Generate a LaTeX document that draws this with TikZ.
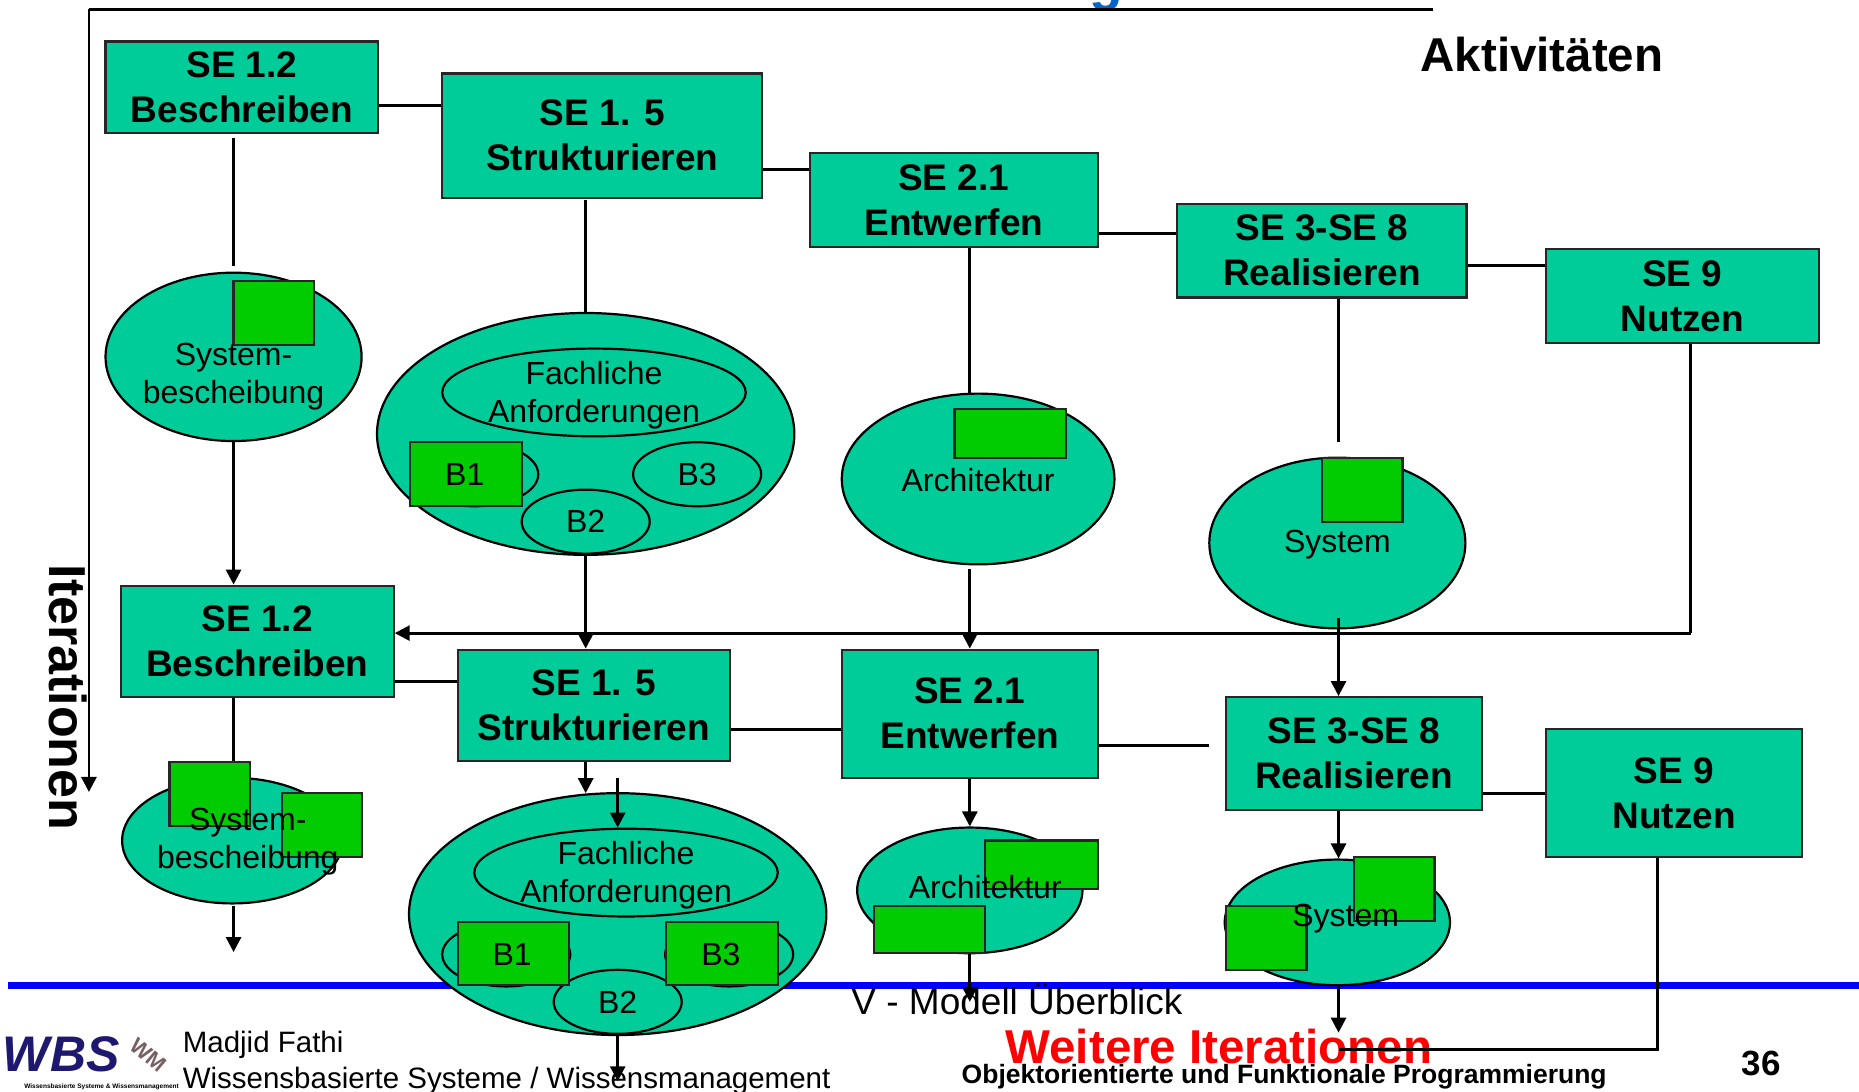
\documentclass[tikz,border=0pt]{standalone}
\usepackage{fontspec}
\setmainfont{Liberation Sans}
\usetikzlibrary{arrows.meta,shapes.geometric}
\definecolor{teal1}{RGB}{0,204,153}
\definecolor{green1}{RGB}{0,204,0}
\definecolor{blue1}{RGB}{0,0,255}
\definecolor{red1}{RGB}{255,0,0}
\definecolor{title1}{RGB}{0,102,204}
\definecolor{navy1}{RGB}{30,25,110}
\definecolor{wm1}{RGB}{120,95,100}
\tikzset{
  sebox/.style={draw=black!85,fill=teal1,line width=2.2pt,inner sep=0pt,align=center,font=\fontsize{37}{45}\selectfont\bfseries},
  oval/.style={ellipse,draw=black,fill=teal1,line width=2.2pt,inner sep=0pt},
  grbox/.style={draw=black!85,fill=green1,line width=2.2pt,inner sep=0pt},
  lab/.style={inner sep=0pt,align=center,font=\fontsize{32}{38}\selectfont},
  conn/.style={draw=black,line width=2.8pt},
  arr/.style={conn,-{Triangle[length=15pt,width=15pt]}},
  plain/.style={inner sep=0pt,anchor=base west},
}
\newcommand{\SEb}[7]{\node[sebox,minimum width={(#4-#2)*1.1856pt},minimum height={(#5-#3)*1.1856pt}] (#1) at ({(#2+#4)/2},{(#3+#5)/2}) {#6\\#7};}
\newcommand{\Grb}[5]{\node[grbox,minimum width={(#4-#2)*1.1856pt},minimum height={(#5-#3)*1.1856pt}] (#1) at ({(#2+#4)/2},{(#3+#5)/2}) {};}
\newcommand{\Ovl}[5]{\node[oval,minimum width={2*#4*1.1856pt},minimum height={2*#5*1.1856pt}] (#1) at (#2,#3) {};}
\newcommand{\Lab}[4]{\node[lab] (#1) at (#2,#3) {#4};}
\begin{document}
\begin{tikzpicture}[x=1.1856pt,y=-1.1856pt]
\useasboundingbox (0,0) rectangle (1568,921);
% background rule
\coordinate (bL) at (7,831); \coordinate (bR) at (1568,831);
\draw[blue1,line width=7pt] (bL) -- (bR);
% clipped title remnant
\node[plain,text=title1,font=\fontsize{55}{55}\selectfont\bfseries] (ttl) at (919,0) {g};
% iteration axis
\coordinate (tR) at (1209,8); \coordinate (tL) at (75,8); \coordinate (tD) at (75,668);
\draw[conn] (tR) -- (tL);
\draw[arr] (tL) -- (tD);
\node[plain,rotate=-90,font=\fontsize{52}{52}\selectfont\bfseries] (iter) at (42,476) {Iterationen};
\node[plain,font=\fontsize{47.5}{47.5}\selectfont\bfseries] (akt) at (1198,60) {Aktivitäten};
% ovals
\Ovl{E1}{197}{301}{108}{71}
\Ovl{E2}{494}{366}{176}{102}
\Ovl{F21}{501}{331}{128}{37}
\Ovl{F22}{400}{400}{54}{27}
\Ovl{F23}{588}{400}{54}{27}
\Ovl{F24}{494}{440}{54}{27}
\Ovl{E3}{825}{404}{115}{72}
\Ovl{E4}{1128}{458}{108}{72}
\Ovl{E5}{196}{709}{93}{53}
\Ovl{E6}{521}{771}{176}{102}
\Ovl{G21}{528}{736}{128}{37}
\Ovl{G22}{427}{805}{54}{27}
\Ovl{G23}{615}{805}{54}{27}
\Ovl{G24}{521}{845}{54}{27}
\Ovl{E7}{818}{751}{95}{53}
\Ovl{E8}{1128}{778}{95}{53}
% activity boxes
\SEb{A1}{89}{35}{319}{112}{SE 1.2}{Beschreiben}
\SEb{A2}{373}{62}{643}{167}{SE 1. 5}{Strukturieren}
\SEb{A3}{683}{129}{926}{208}{SE 2.1}{Entwerfen}
\SEb{A4}{993}{172}{1237}{251}{SE 3-SE 8}{Realisieren}
\SEb{A5}{1304}{210}{1534}{289}{SE 9}{Nutzen}
\SEb{B1}{102}{494}{332}{588}{SE 1.2}{Beschreiben}
\SEb{B2}{386}{548}{616}{642}{SE 1. 5}{Strukturieren}
\SEb{B3}{710}{548}{926}{656}{SE 2.1}{Entwerfen}
\SEb{B4}{1034}{588}{1250}{683}{SE 3-SE 8}{Realisieren}
\SEb{B5}{1304}{615}{1520}{723}{SE 9}{Nutzen}
% footer text under connectors
\node[plain,text=red1,font=\fontsize{47.5}{47.5}\selectfont\bfseries] (wei) at (848,897) {Weitere Iterationen};
% free ends
\coordinate (c1) at (197,116); \coordinate (c2) at (197,224);
\coordinate (c3) at (494,169);
\coordinate (c4) at (818,480);
\coordinate (c5) at (1129,373);
\coordinate (c6) at (1129,521);
\coordinate (c7) at (1020,629);
\coordinate (c8) at (197,764); \coordinate (c9) at (197,803);
\coordinate (c10) at (494,669);
\coordinate (c11) at (521,656);
\coordinate (c12) at (521,912);
\coordinate (c13) at (818,845);
\coordinate (c14) at (1129,871);
\coordinate (c15) at (1129,885);
\coordinate (c16) at (1426,534);
\coordinate (c17) at (1398,885);
% horizontal links
\draw[conn] (A1.east |- 0,89) -- (A2.west |- 0,89);
\draw[conn] (A2.east |- 0,143) -- (A3.west |- 0,143);
\draw[conn] (A3.east |- 0,197) -- (A4.west |- 0,197);
\draw[conn] (A4.east |- 0,224) -- (A5.west |- 0,224);
\draw[conn] (B1.east |- 0,575) -- (B2.west |- 0,575);
\draw[conn] (B2.east |- 0,615) -- (B3.west |- 0,615);
\draw[conn] (B3.east |- 0,629) -- (c7);
\draw[conn] (B4.east |- 0,669) -- (B5.west |- 0,669);
% upper verticals
\draw[conn] (c1) -- (c2);
\draw[conn] (c3) -- (494,0 |- E2.north);
\draw[conn] (818,0 |- A3.south) -- (818,0 |- E3.north);
\draw[conn] (1129,0 |- A4.south) -- (c5);
\draw[arr] (197,0 |- E1.south) -- (197,0 |- B1.north);
\draw[arr] (494,0 |- E2.south) -- (494,0 |- B2.north);
\draw[arr] (c4) -- (818,0 |- B3.north);
\draw[arr] (c6) -- (1129,0 |- B4.north);
% return line
\draw[conn] (1426,0 |- A5.south) -- (c16);
\draw[arr] (c16) -- (B1.east |- c16);
% lower verticals
\draw[conn] (197,0 |- B1.south) -- (197,0 |- E5.north);
\draw[arr] (c8) -- (c9);
\draw[arr] (494,0 |- B2.south) -- (c10);
\draw[arr] (c11) -- (521,0 |- G21.north);
\draw[arr] (521,0 |- E6.south) -- (c12);
\draw[arr] (818,0 |- B3.south) -- (818,0 |- E7.north);
\draw[arr] (818,0 |- E7.south) -- (c13);
\draw[arr] (1129,0 |- B4.south) -- (1129,0 |- E8.north);
\draw[arr] (1129,0 |- E8.south) -- (c14);
\draw[conn,line width=3.4pt] (1398,0 |- B5.south) -- (c17) -- (c15);
% green squares
\Grb{g1}{197}{237}{265}{291}
\Grb{g2}{346}{373}{440}{427}
\Grb{g3}{805}{345}{899}{386}
\Grb{g4}{1115}{386}{1183}{440}
\Grb{g5}{143}{643}{211}{697}
\Grb{g6}{238}{669}{305}{723}
\Grb{g7}{386}{778}{480}{831}
\Grb{g8}{562}{778}{656}{831}
\Grb{g9}{831}{709}{926}{750}
\Grb{g10}{737}{764}{831}{804}
\Grb{g11}{1142}{723}{1210}{777}
\Grb{g12}{1034}{764}{1102}{818}
% oval labels
\Lab{t1}{197}{318}{System-\\bescheibung}
\Lab{t2}{501}{333}{Fachliche\\Anforderungen}
\Lab{t3}{392}{400}{B1}
\Lab{t4}{588}{400}{B3}
\Lab{t5}{494}{440}{B2}
\Lab{t6}{825}{405}{Architektur}
\Lab{t7}{1128}{459}{System}
\Lab{t8}{209}{710}{System-\\bescheibung}
\Lab{t9}{528}{738}{Fachliche\\Anforderungen}
\Lab{t10}{432}{805}{B1}
\Lab{t11}{608}{805}{B3}
\Lab{t12}{521}{845}{B2}
\Lab{t13}{831}{748}{Architektur}
\Lab{t14}{1135}{775}{System}
% footer
\node[plain,font=\fontsize{37}{37}\selectfont] (vm) at (718,856) {V - Modell Überblick};
\node[plain,font=\fontsize{29.5}{29.5}\selectfont] (mf) at (154,888) {Madjid Fathi};
\node[plain,font=\fontsize{29.5}{29.5}\selectfont] (wb) at (154,918) {Wissensbasierte Systeme / Wissensmanagement};
\node[plain,font=\fontsize{26.5}{26.5}\selectfont\bfseries] (ofp) at (811,914) {Objektorientierte und Funktionale Programmierung};
\node[plain,font=\fontsize{35}{35}\selectfont\bfseries] (pg) at (1469,907) {36};
% logo
\node[inner sep=0pt,anchor=base east,text=navy1,font=\fontsize{50}{50}\selectfont\bfseries\itshape] (wbs) at (101,904) {WBS};
\node[inner sep=0pt,rotate=-40,text=wm1,font=\fontsize{22}{22}\selectfont\bfseries] (wml) at (125,890) {WM};
\node[inner sep=0pt,anchor=base east,font=\fontsize{6.5}{6.5}\selectfont\bfseries] (wbt) at (151,918) {Wissensbasierte Systeme \& Wissensmanagement};
\end{tikzpicture}
\end{document}
